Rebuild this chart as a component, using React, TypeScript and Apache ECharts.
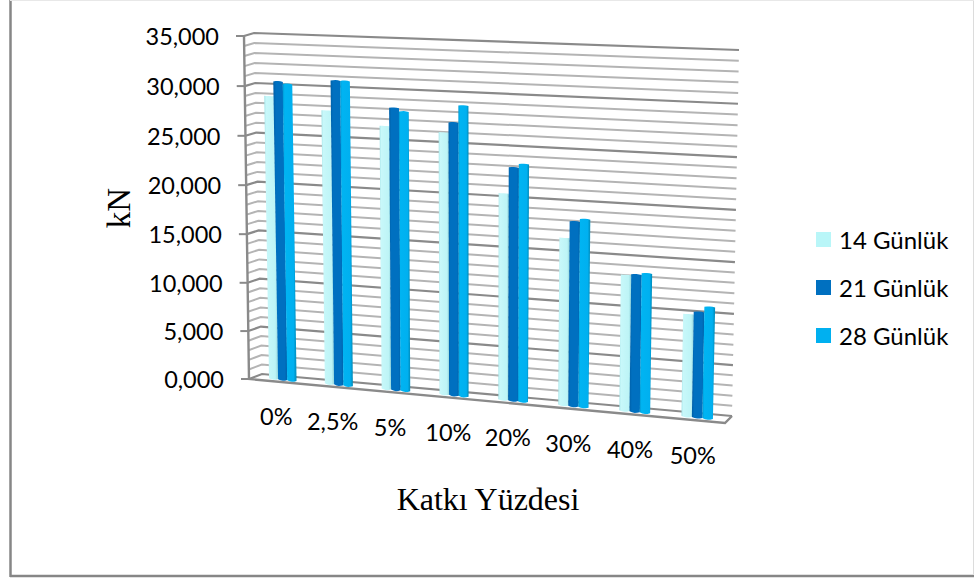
import React, { useEffect, useRef } from "react";
import * as echarts from "echarts";

const categories = ["0%", "2,5%", "5%", "10%", "20%", "30%", "40%", "50%"];
const seriesNames = ["14 Günlük", "21 Günlük", "28 Günlük"];
const values14 = [28960, 27800, 26550, 26220, 20560, 16570, 13380, 10010];
const values21 = [30450, 30800, 28360, 27220, 23140, 18240, 13480, 10300];
const values28 = [30250, 30800, 28060, 28920, 23530, 18530, 13670, 10870];
const majorTicks = [0, 5000, 10000, 15000, 20000, 25000, 30000, 35000];
const tickLabels = ["0,000", "5,000", "10,000", "15,000", "20,000", "25,000", "30,000", "35,000"];
const minorTicks = [
  1000, 2000, 3000, 4000, 6000, 7000, 8000, 9000, 11000, 12000, 13000, 14000, 16000, 17000,
  18000, 19000, 21000, 22000, 23000, 24000, 26000, 27000, 28000, 29000, 31000, 32000, 33000, 34000,
];

type Pt = [number, number];
const W = 974;
const H = 578;
const GRID = { left: 240, top: 30, width: 500, height: 400 };

// Corners of the back wall and of the front plane: TL, TR, BR, BL.
const BACK: Pt[] = [[254, 33], [739, 50], [732, 416], [262, 374]];
const FRONT: Pt[] = [[244, 36], [733, 55], [725, 423], [249, 379]];
const BAR_DEPTH = 0.6;
const BAR_SHARE = 0.168;
const BAR_SHIFT = 0.002;
const SANS = "Lato, Carlito, sans-serif";
const SERIF = "'Liberation Serif', serif";

function homography(q: Pt[]) {
  const [[x0, y0], [x1, y1], [x2, y2], [x3, y3]] = q;
  const dx1 = x1 - x2, dx2 = x3 - x2, sx = x0 - x1 + x2 - x3;
  const dy1 = y1 - y2, dy2 = y3 - y2, sy = y0 - y1 + y2 - y3;
  const den = dx1 * dy2 - dx2 * dy1;
  const g = (sx * dy2 - dx2 * sy) / den;
  const h = (dx1 * sy - sx * dy1) / den;
  const a = x1 - x0 + g * x1, b = x3 - x0 + h * x3;
  const d = y1 - y0 + g * y1, e = y3 - y0 + h * y3;
  return (u: number, v: number): Pt => {
    const w = g * u + h * v + 1;
    return [(a * u + b * v + x0) / w, (d * u + e * v + y0) / w];
  };
}
const backPlane = homography(BACK);
const frontPlane = homography(FRONT);
const inDepth = (u: number, v: number, t: number): Pt => {
  const b = backPlane(u, v);
  const f = frontPlane(u, v);
  return [b[0] + (f[0] - b[0]) * t, b[1] + (f[1] - b[1]) * t];
};

// Grid pixel -> unit square of the tilted box.
const toUnit = (p: number[]): Pt => [(p[0] - GRID.left) / GRID.width, (p[1] - GRID.top) / GRID.height];

const grad = (stops: [number, string][]) =>
  new echarts.graphic.LinearGradient(0, 0, 1, 0, stops.map(([offset, color]) => ({ offset, color })));

const barFills = [
  grad([[0, "#a6e4e8"], [0.14, "#c8f8fa"], [0.78, "#bdf4f6"], [1, "#93d4da"]]),
  grad([[0, "#0060a8"], [0.2, "#0070c0"], [0.8, "#0070c0"], [1, "#0062aa"]]),
  grad([[0, "#0098d2"], [0.15, "#00b4f2"], [0.78, "#00b0f0"], [1, "#008ab8"]]),
];
const legendColors = ["#b9f6f8", "#0070c0", "#00b0f0"];

function barRender(seriesIndex: number) {
  return (_: any, api: any) => {
    const i = api.value(0);
    const val = api.value(1);
    const top = api.coord([i, val]);
    const base = api.coord([i, 0]);
    const band = api.size([1, 0])[0];
    const du = (band / GRID.width) * BAR_SHARE;
    const cu = toUnit(top)[0] + BAR_SHIFT + (seriesIndex - 1) * du;
    const tv = toUnit(top)[1];
    const bv = toUnit(base)[1];
    const t = BAR_DEPTH + (seriesIndex - 1) * 0.02;
    const steps = [0, 0.25, 0.5, 0.75, 1];
    const bulge = (s: number) => 1 - (2 * s - 1) * (2 * s - 1);
    const points: Pt[] = [];
    steps.forEach((s) => {
      const p = inDepth(cu + (s - 0.5) * du, tv, t);
      points.push([p[0], p[1] - (seriesIndex === 0 ? 0 : 0.6) * bulge(s)]);
    });
    steps.slice().reverse().forEach((s) => {
      const p = inDepth(cu + (s - 0.5) * du, bv, t);
      points.push([p[0], p[1] + 1.2 * bulge(s)]);
    });
    return { type: "polygon", shape: { points }, style: { fill: barFills[seriesIndex] } };
  };
}

function wallRender(color: string, lineWidth: number) {
  return (_: any, api: any) => {
    const v = toUnit(api.coord([0, api.value(1)]))[1];
    const pts = [frontPlane(0, v), backPlane(0, v), backPlane(1, v)];
    return { type: "polyline", shape: { points: pts }, style: { stroke: color, lineWidth, fill: "none" } };
  };
}

function edge(x1: number, y1: number, x2: number, y2: number, stroke: string, lineWidth: number) {
  return { type: "line", shape: { x1, y1, x2, y2 }, style: { stroke, lineWidth }, z: -1 };
}

function App() {
  const ref = useRef<HTMLDivElement>(null);
  useEffect(() => {
    document.body.style.margin = "0";
    const chart = echarts.init(ref.current!, undefined, { renderer: "svg" });
    const bars = [values14, values21, values28].map((vals, s) => ({
      type: "custom",
      name: seriesNames[s],
      coordinateSystem: "cartesian2d",
      itemStyle: { color: legendColors[s] },
      clip: false,
      z: 5 + s,
      data: vals.map((v, i) => [i, v]),
      renderItem: barRender(s),
    }));
    chart.setOption({
      animation: false,
      backgroundColor: "#ffffff",
      grid: { ...GRID, containLabel: false },
      xAxis: { type: "category", data: categories, show: false },
      yAxis: { type: "value", min: 0, max: 35000, interval: 5000, show: false },
      legend: {
        orient: "vertical",
        left: 816,
        top: 227.5,
        padding: 0,
        itemWidth: 15,
        itemHeight: 15,
        itemGap: 24,
        icon: "rect",
        selectedMode: false,
        data: seriesNames,
        textStyle: { fontFamily: SANS, fontSize: 24, color: "#000", padding: [0, 0, 0, 3] },
      },
      graphic: [
        edge(10.5, 0, 10.5, 577, "#868686", 2.5),
        edge(10, 576, 974, 576, "#868686", 2.5),
        edge(973.5, 0, 973.5, 574, "#dcdcdc", 1),
        edge(10, 0.5, 974, 0.5, "#e8e8e8", 1),
        {
          type: "text",
          x: 119,
          y: 208,
          rotation: Math.PI / 2,
          style: { text: "kN", font: `33px ${SERIF}`, fill: "#000", align: "center", verticalAlign: "middle" },
        },
        {
          type: "text",
          x: 488,
          y: 499,
          style: { text: "Katkı Yüzdesi", font: `32px ${SERIF}`, fill: "#000", align: "center", verticalAlign: "middle" },
        },
      ],
      series: [
        {
          type: "custom",
          name: "minor",
          coordinateSystem: "cartesian2d",
          clip: false,
          silent: true,
          z: 1,
          data: minorTicks.map((t) => [0, t]),
          renderItem: wallRender("#b4b4b4", 2),
        },
        {
          type: "custom",
          name: "major",
          coordinateSystem: "cartesian2d",
          clip: false,
          silent: true,
          z: 2,
          data: majorTicks.map((t) => [0, t]),
          renderItem: wallRender("#8a8a8a", 2.2),
        },
        {
          // Axis line, floor outline, tick marks and value labels.
          type: "custom",
          name: "frame",
          coordinateSystem: "cartesian2d",
          clip: false,
          silent: true,
          z: 3,
          data: majorTicks.map((t, i) => [i, t]),
          renderItem: (params: any, api: any) => {
            const v = toUnit(api.coord([0, api.value(1)]))[1];
            const p = frontPlane(0, v);
            const children: any[] = [
              { type: "line", shape: { x1: p[0] - 8, y1: p[1], x2: p[0], y2: p[1] }, style: { stroke: "#8a8a8a", lineWidth: 2 } },
              {
                type: "text",
                x: p[0] - 25,
                y: p[1],
                style: { text: tickLabels[params.dataIndex], font: `23.5px ${SANS}`, fill: "#000", align: "right", verticalAlign: "middle" },
              },
            ];
            if (params.dataIndex === 0) {
              children.push({
                type: "polyline",
                shape: { points: [frontPlane(0, 0), frontPlane(0, 1), frontPlane(1, 1), backPlane(1, 1)] },
                style: { stroke: "#8a8a8a", lineWidth: 2.4, fill: "none" },
              });
            }
            return { type: "group", children };
          },
        },
        {
          type: "custom",
          name: "categoryLabels",
          coordinateSystem: "cartesian2d",
          clip: false,
          silent: true,
          z: 9,
          data: categories.map((_, i) => [i, 0]),
          renderItem: (params: any, api: any) => {
            const u = toUnit(api.coord([api.value(0), 0]))[0];
            const p = frontPlane(u, 1);
            return {
              type: "text",
              x: p[0] - 0.5,
              y: p[1] + 34.5,
              style: { text: categories[params.dataIndex], font: `23.5px ${SANS}`, fill: "#000", align: "center", verticalAlign: "middle" },
            };
          },
        },
        ...bars,
      ],
    });
    return () => chart.dispose();
  }, []);
  return <div ref={ref} style={{ width: W, height: H, position: "fixed", left: 0, top: 0 }} />;
}

export default App;
